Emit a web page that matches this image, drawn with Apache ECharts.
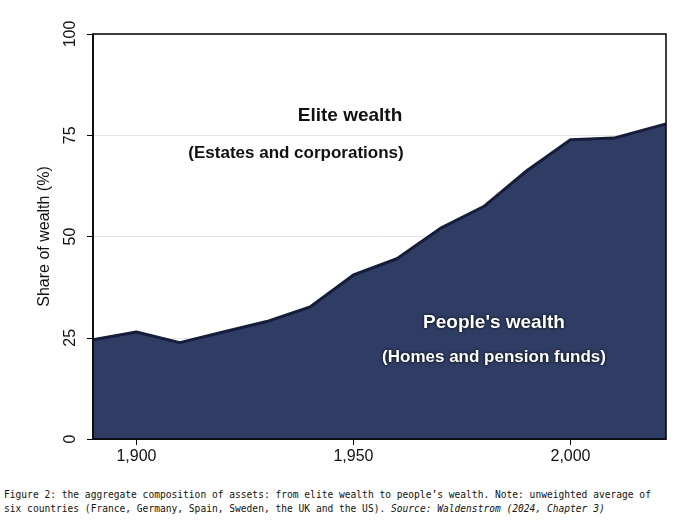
<!DOCTYPE html>
<html>
<head>
<meta charset="UTF-8">
<script src="https://cdn.jsdelivr.net/npm/echarts@6/dist/echarts.min.js"></script>
<style>
body { margin: 0; background: #fff; }
#chart { width: 700px; height: 480px; }
#cap { font-family: 'DejaVu Sans Mono', monospace; font-size: 9.6px; color: #111; margin: 8px 0 0 4px; line-height: 1.45; white-space: pre; }
</style>
</head>
<body>
<div id="chart"></div>
<div id="cap">Figure 2: the aggregate composition of assets: from elite wealth to people’s wealth. Note: unweighted average of
six countries (France, Germany, Spain, Sweden, the UK and the US). <i>Source: Waldenstrom (2024, Chapter 3)</i></div>
<script>
// share of people's wealth (%)
const years = [1890, 1900, 1910, 1920, 1930, 1940, 1950, 1960, 1970, 1980, 1990, 2000, 2010, 2022];
const peopleShare = [24.5, 26.4, 23.8, 26.4, 29, 32.6, 40.5, 44.5, 52, 57.4, 66.3, 73.9, 74.3, 77.8];
const yTicks = [0, 25, 50, 75, 100];

const chart = echarts.init(document.getElementById('chart'));
const bold = { fontFamily: 'Liberation Sans, Arial', fontWeight: 'bold' };
chart.setOption({
    animation: false,
    grid: { left: 93, right: 34, top: 34, bottom: 41 },
    xAxis: {
        type: 'value', min: 1890, max: 2022, interval: 50,
        axisLine: { lineStyle: { color: '#000', width: 1.5 } },
        axisTick: { show: true, length: 6, lineStyle: { color: '#000' }, customValues: [1900, 1950, 2000] },
        axisLabel: { color: '#111', fontSize: 16, margin: 10, customValues: [1900, 1950, 2000], fontFamily: 'Liberation Sans, Arial' },
        splitLine: { show: false }
    },
    yAxis: {
        type: 'value', min: 0, max: 100, interval: 25,
        name: 'Share of wealth (%)', nameLocation: 'middle', nameGap: 40,
        nameTextStyle: { fontSize: 16, color: '#111', fontFamily: 'Liberation Sans, Arial' },
        axisLine: { show: true, lineStyle: { color: '#000', width: 1.5 } },
        axisTick: { show: true, length: 6, lineStyle: { color: '#000' } },
        axisLabel: { color: '#111', fontSize: 16, rotate: 90, margin: 14, fontFamily: 'Liberation Sans, Arial' },
        splitLine: { lineStyle: { color: '#e4e4e4' } }
    },
    graphic: [
        { type: 'rect', shape: { x: 93, y: 34, width: 573, height: 405 }, style: { fill: 'none', stroke: '#000', lineWidth: 1.5 }, silent: true, z: 10 },
        { type: 'text', left: 'center', x: 0, style: { x: 300, y: 106, text: 'Elite wealth', fill: '#111', fontSize: 19, ...bold, textAlign: 'center' } },
        { type: 'text', style: { x: 296, y: 145, text: '(Estates and corporations)', fill: '#111', fontSize: 17, ...bold, textAlign: 'center' } },
        { type: 'text', style: { x: 494, y: 313, text: "People's wealth", fill: '#fff', fontSize: 19, ...bold, textAlign: 'center', textShadowColor: '#000', textShadowBlur: 3 }, z: 20 },
        { type: 'text', style: { x: 494, y: 349, text: '(Homes and pension funds)', fill: '#fff', fontSize: 17, ...bold, textAlign: 'center', textShadowColor: '#000', textShadowBlur: 3 }, z: 20 }
    ],
    series: [{
        type: 'line',
        data: years.map((y, i) => [y, peopleShare[i]]),
        symbol: 'none',
        lineStyle: { color: '#151d3a', width: 3 },
        areaStyle: { color: '#2f3c63', opacity: 1 }
    }]
});
</script>
</body>
</html>
